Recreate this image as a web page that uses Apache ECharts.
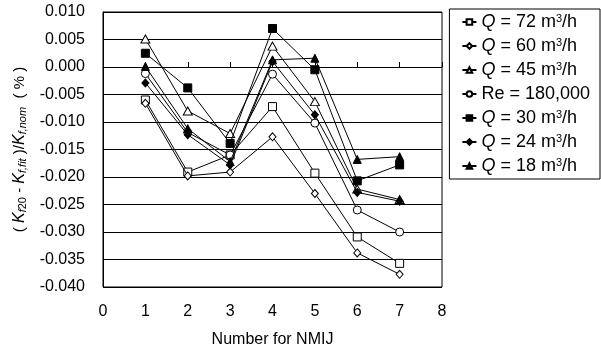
<!DOCTYPE html>
<html><head><meta charset="utf-8">
<script src="https://cdn.jsdelivr.net/npm/echarts@6/dist/echarts.min.js"></script>
<style>html,body{margin:0;padding:0;background:#fff}#c{width:601px;height:353px}</style>
</head><body><div id="c"></div>
<script>
const xValues = [1, 2, 3, 4, 5, 6, 7];
const xTicks = [0, 1, 2, 3, 4, 5, 6, 7, 8];
const yTicks = [0.010, 0.005, 0.000, -0.005, -0.010, -0.015, -0.020, -0.025, -0.030, -0.035, -0.040];
const seriesNames = ['{i|Q} = 72 m{sup|3}/h', '{i|Q} = 60 m{sup|3}/h', '{i|Q} = 45 m{sup|3}/h', 'Re = 180,000', '{i|Q} = 30 m{sup|3}/h', '{i|Q} = 24 m{sup|3}/h', '{i|Q} = 18 m{sup|3}/h'];
const q72 = [-0.0060, -0.0191, -0.0160, -0.0072, -0.0193, -0.0309, -0.0357];
const q60 = [-0.0066, -0.0198, -0.0191, -0.0127, -0.0230, -0.0338, -0.0377];
const q45 = [0.0051, -0.0080, -0.0121, 0.0038, -0.0063, -0.0222, -0.0241];
const re180000 = [-0.0012, -0.0119, -0.0160, -0.0013, -0.0102, -0.0260, -0.0300];
const q30 = [0.0025, -0.0038, -0.0139, 0.0070, -0.0005, -0.0207, -0.0178];
const q24 = [-0.0029, -0.0123, -0.0178, 0.0010, -0.0087, -0.0228, -0.0244];
const q18 = [0.0001, -0.0112, -0.0172, 0.0013, 0.0016, -0.0168, -0.0163];

const values = [q72, q60, q45, re180000, q30, q24, q18];
const styles = [
  {symbol: 'rect', size: 8, fill: '#fff'},
  {symbol: 'diamond', size: [7, 8], fill: '#fff'},
  {symbol: 'triangle', size: [9, 8], fill: '#fff'},
  {symbol: 'circle', size: 8, fill: '#fff'},
  {symbol: 'rect', size: 8, fill: '#000'},
  {symbol: 'diamond', size: [7, 8], fill: '#000'},
  {symbol: 'triangle', size: [8, 8], fill: '#000'}
];
const FONT = 'Liberation Sans, Arial, sans-serif';
const chart = echarts.init(document.getElementById('c'), null, {renderer: 'canvas'});
const series = values.map((arr, k) => ({
  name: seriesNames[k],
  type: 'line',
  data: arr.map((v, j) => [xValues[j], v]),
  symbol: styles[k].symbol,
  symbolSize: styles[k].size,
  showAllSymbol: true,
  lineStyle: {color: '#000', width: 1},
  itemStyle: {color: styles[k].fill, borderColor: '#000', borderWidth: 1},
  emphasis: {disabled: true},
  animation: false,
  z: 2 + k
}));
chart.setOption({
  backgroundColor: '#fff',
  animation: false,
  grid: {left: 103, right: 159, top: 12, bottom: 66, show: true, borderColor: '#000', borderWidth: 1, backgroundColor: 'transparent'},
  legend: {
    orient: 'vertical', right: 1, top: 9,
    padding: [4, 10, 4, 12],
    itemGap: 6, itemWidth: 14, itemHeight: 7,
    borderColor: '#000', borderWidth: 1, backgroundColor: '#fff',
    textStyle: {fontFamily: FONT, fontSize: 18, color: '#000', lineHeight: 18,
      rich: {
        i: {fontStyle: 'italic', fontFamily: FONT, fontSize: 18, color: '#000', lineHeight: 18},
        sup: {fontSize: 11, fontFamily: FONT, color: '#000', verticalAlign: 'top', lineHeight: 11, padding: [0, 0, 7, 0]}
      }},
    data: seriesNames
  },
  xAxis: {
    type: 'value', min: 0, max: 8, interval: 1,
    name: 'Number for NMIJ', nameLocation: 'middle', nameGap: 45,
    nameTextStyle: {fontFamily: FONT, fontSize: 16, color: '#000'},
    axisLine: {show: true, lineStyle: {color: '#000', width: 1}},
    axisTick: {show: true, inside: true, length: 5, lineStyle: {color: '#000'}},
    axisLabel: {margin: 17, fontFamily: FONT, fontSize: 16, color: '#000',
      formatter: v => xTicks.includes(v) ? String(v) : ''},
    splitLine: {show: false}
  },
  yAxis: {
    type: 'value', min: -0.040, max: 0.010, interval: 0.005,
    name: '( {i|K}{subi|f}{sub|20} - {i|K}{subi|f,fit} )/{i|K}{subi|f,nom}  ( % )',
    nameLocation: 'middle', nameGap: 73, nameRotate: 90,
    nameTextStyle: {fontFamily: FONT, fontSize: 15, color: '#000',
      rich: {
        i: {fontStyle: 'italic', fontFamily: FONT, fontSize: 16, color: '#000', lineHeight: 18, verticalAlign: 'middle'},
        subi: {fontStyle: 'italic', fontFamily: FONT, fontSize: 11, color: '#000', lineHeight: 11, verticalAlign: 'bottom'},
        sub: {fontFamily: FONT, fontSize: 11, color: '#000', lineHeight: 11, verticalAlign: 'bottom'}
      }},
    axisLine: {show: true, lineStyle: {color: '#000', width: 1}},
    axisTick: {show: false},
    axisLabel: {margin: 18, fontFamily: FONT, fontSize: 16, color: '#000',
      formatter: v => { const t = yTicks.find(y => Math.abs(y - v) < 1e-9); return t === undefined ? '' : t.toFixed(3); }},
    splitLine: {show: true, lineStyle: {color: '#000', width: 1}}
  },
  series: series
});
</script></body></html>
